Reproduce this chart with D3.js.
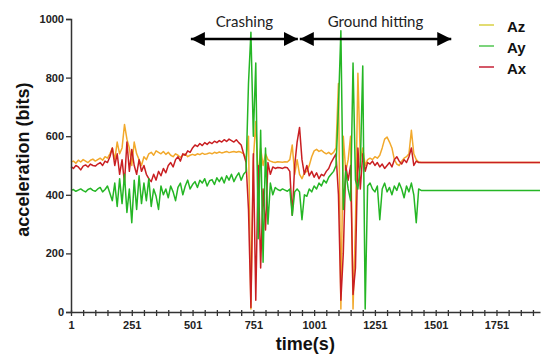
<!DOCTYPE html>
<html>
<head>
<meta charset="utf-8">
<script src="https://cdn.jsdelivr.net/npm/d3@7"></script>
<style>
  body { margin: 0; background: #fff; }
  svg { display: block; }
</style>
</head>
<body>
<div id="chart"></div>
<script>
// sample times (s)
const time = [
  1, 11, 21, 31, 41, 51, 61, 71, 81, 91,
  101, 111, 121, 131, 141, 151, 161, 171, 181, 191,
  201, 211, 221, 231, 241, 251, 261, 271, 281, 291,
  301, 311, 321, 331, 341, 351, 361, 371, 381, 391,
  401, 411, 421, 431, 441, 451, 461, 471, 481, 491,
  501, 511, 521, 531, 541, 551, 561, 571, 581, 591,
  601, 611, 621, 631, 641, 651, 661, 671, 681, 691,
  701, 711, 721, 731, 741, 751, 761, 771, 781, 791,
  801, 811, 821, 831, 841, 851, 861, 871, 881, 891,
  901, 911, 921, 931, 941, 951, 961, 971, 981, 991,
  1001, 1011, 1021, 1031, 1041, 1051, 1061, 1071, 1081, 1091,
  1101, 1111, 1121, 1131, 1141, 1151, 1161, 1171, 1181, 1191,
  1201, 1211, 1221, 1231, 1241, 1251, 1261, 1271, 1281, 1291,
  1301, 1311, 1321, 1331, 1341, 1351, 1361, 1371, 1381, 1391,
  1401, 1411, 1421, 1431, 1441, 1451, 1461, 1471, 1481, 1491,
  1930
];

const az = [
  512, 515, 508, 518, 512, 520, 515, 510, 518, 522,
  515, 520, 525, 518, 530, 525, 540, 560, 520, 580,
  540, 560, 640, 590, 560, 500, 580, 540, 520, 500,
  530, 520, 540, 545, 535, 550, 545, 540, 548, 538,
  545, 535, 530, 540, 535, 528, 535, 540, 530, 535,
  538, 535, 540, 537, 542, 538, 540, 543, 540, 545,
  542, 546, 543, 545, 548, 544, 546, 548, 545, 548,
  545, 540, 520, 600, 10, 520, 650, 450, 560, 500,
  540, 520, 515, 512, 510, 513, 512, 511, 513, 512,
  520, 570, 470, 520, 470, 455, 475, 480, 500, 530,
  550, 555, 548, 552, 545, 540, 545, 538, 545, 560,
  780, 10, 600, 480, 520, 600, 10, 300, 815, 520,
  560, 500, 520, 525, 520, 530, 525, 535, 560, 590,
  597, 580, 560, 520, 505, 500, 515, 525, 530, 540,
  620, 540, 520, 512, 510, 510, 510, 510, 510, 510,
  510
];

const ay = [
  415, 418, 412, 416, 420, 414, 410, 418, 422, 415,
  412, 420, 425, 410, 418, 430, 405, 380, 440, 360,
  455, 370, 470, 340, 420, 305, 450, 350, 465, 370,
  440, 380, 455, 360, 420, 395, 350, 430, 400, 420,
  390, 430, 410, 380, 425, 440, 400, 430, 450, 420,
  435, 445, 425, 450, 440, 455, 430, 448, 452, 435,
  458, 445, 460, 440, 465, 450, 470, 445, 462, 475,
  450, 470, 480, 780, 955, 600, 850, 250, 620, 170,
  560, 300, 440, 400, 425, 418, 414, 420, 416, 412,
  420, 330, 410, 420, 410, 315, 400, 395, 420, 410,
  430, 420, 440, 430, 450, 440, 460, 470, 480, 500,
  700, 960, 350, 480, 420, 380, 850, 450, 420, 500,
  840, 10, 430, 440, 420, 410, 430, 315, 420, 440,
  410, 425, 400, 430, 415, 440, 420, 390, 430, 410,
  440, 400, 305, 420, 415, 415, 415, 415, 415, 415,
  415
];

const ax = [
  496, 490, 500, 495, 485, 498, 502, 495, 505, 500,
  498, 505, 510, 500, 515, 510, 530, 560, 500, 540,
  470, 520, 440, 580, 480, 555, 500, 470, 520, 480,
  500, 470, 455, 445, 470, 450, 480, 465, 490, 475,
  500, 510, 495, 520, 530, 515, 540, 535, 550, 545,
  560, 570, 565, 575, 568, 578, 572, 580, 575, 583,
  578, 585, 580, 588, 582, 590, 585, 580, 588, 578,
  570, 540, 510, 350, 15, 540, 40, 500, 150, 420,
  280, 510, 470, 495, 490, 493, 492, 490, 494, 492,
  480, 330, 500, 580, 630, 520, 470, 500, 465, 480,
  460, 475, 455, 470, 465, 480, 490, 510, 525, 540,
  400, 40, 200, 500, 450, 500, 60, 150, 560, 420,
  540, 480, 510, 505, 515, 500, 510, 495, 505, 490,
  500, 510, 495, 520, 530, 515, 505, 520, 510, 530,
  560, 500, 515, 510, 510, 510, 510, 510, 510, 510,
  510
];

const seriesNames = ["Az", "Ay", "Ax"];
const seriesColors = {Az: "#f2a92c", Ay: "#25b625", Ax: "#c91f22"};
const legendColors = {Az: "#e2dc72", Ay: "#7cd47c", Ax: "#d45868"};
const xTicks = [1, 251, 501, 751, 1001, 1251, 1501, 1751];
const yTicks = [0, 200, 400, 600, 800, 1000];
const phases = [
  {label: "Crashing", from: 494, to: 934},
  {label: "Ground hitting", from: 942, to: 1565}
];

let margin = {top: 19, right: 1, bottom: 44, left: 71};
let _width = 541 - margin.left - margin.right;
let _height = 356 - margin.top - margin.bottom;

let x = d3.scaleLinear().domain([1, 1930]).range([0, _width]);
let y = d3.scaleLinear().domain([0, 1000]).range([_height, 0]);

let svg = d3.select("#chart").append("svg")
    .attr("width", 541)
    .attr("height", 356)
  .append("g")
    .attr("transform", "translate(" + margin.left + "," + margin.top + ")");

// arrow heads
let defs = svg.append("defs");
["end", "start"].forEach(function(k) {
  defs.append("marker")
      .attr("id", "arrow-" + k)
      .attr("markerUnits", "userSpaceOnUse")
      .attr("markerWidth", 16).attr("markerHeight", 14)
      .attr("refX", k === "end" ? 14 : 0).attr("refY", 7)
      .attr("orient", "auto")
    .append("path")
      .attr("d", k === "end" ? "M0,0L14,7L0,14Z" : "M14,0L0,7L14,14Z")
      .attr("fill", "#000");
});

// lines
const table = {Az: az, Ay: ay, Ax: ax};
let line = d3.line()
    .x(function(d, i) { return x(time[i]); })
    .y(function(d) { return y(d); });

["Az", "Ax", "Ay"].forEach(function(name) {
  svg.append("path")
      .datum(table[name])
      .attr("fill", "none")
      .attr("stroke", seriesColors[name])
      .attr("stroke-width", 1.5)
      .attr("stroke-linejoin", "round")
      .attr("d", line);
});

let fmt = d3.format("d");

// y axis
let yAxis = svg.append("g")
    .call(d3.axisLeft(y).tickValues(yTicks).tickFormat(fmt).tickSize(5).tickPadding(2));
yAxis.select(".domain").attr("stroke", "#333").attr("stroke-width", 1.5);
yAxis.selectAll(".tick line").attr("stroke", "#333").attr("stroke-width", 1.3);
yAxis.selectAll("text")
    .attr("font-family", "Liberation Sans, Arial, sans-serif")
    .attr("font-weight", "bold")
    .attr("font-size", 11)
    .attr("fill", "#222");

// x axis, minor ticks every 50
let minor = d3.range(51, 1930, 50).filter(function(v) { return xTicks.indexOf(v) < 0; });
let xMinor = svg.append("g")
    .attr("transform", "translate(0," + _height + ")")
    .call(d3.axisBottom(x).tickValues(minor).tickSize(4).tickFormat(""));
xMinor.select(".domain").remove();
xMinor.selectAll(".tick line").attr("y1", -2).attr("stroke", "#333").attr("stroke-width", 1.3);

let xAxis = svg.append("g")
    .attr("transform", "translate(0," + _height + ")")
    .call(d3.axisBottom(x).tickValues(xTicks).tickFormat(fmt).tickSize(4).tickPadding(5).tickSizeOuter(0));
xAxis.select(".domain").attr("stroke", "#333").attr("stroke-width", 1.5);
xAxis.selectAll(".tick line").attr("y1", -2).attr("stroke", "#333").attr("stroke-width", 1.3);
xAxis.selectAll("text")
    .attr("font-family", "Liberation Sans, Arial, sans-serif")
    .attr("font-weight", "bold")
    .attr("font-size", 11)
    .attr("fill", "#222");

// axis titles
svg.append("text")
    .attr("x", x(965))
    .attr("y", _height + 38)
    .attr("text-anchor", "middle")
    .attr("font-family", "Liberation Sans, Arial, sans-serif")
    .attr("font-weight", "bold")
    .attr("font-size", 18)
    .attr("fill", "#111")
    .text("time(s)");

svg.append("text")
    .attr("transform", "translate(" + (-42) + "," + y(520) + ") rotate(-90)")
    .attr("text-anchor", "middle")
    .attr("font-family", "Liberation Sans, Arial, sans-serif")
    .attr("font-weight", "bold")
    .attr("font-size", 18)
    .attr("fill", "#111")
    .text("acceleration (bits)");

// phase arrows
phases.forEach(function(p) {
  svg.append("line")
      .attr("x1", x(p.from)).attr("x2", x(p.to))
      .attr("y1", 20).attr("y2", 20)
      .attr("stroke", "#000")
      .attr("stroke-width", 2.5)
      .attr("marker-start", "url(#arrow-start)")
      .attr("marker-end", "url(#arrow-end)");
  svg.append("text")
      .attr("x", (x(p.from) + x(p.to)) / 2)
      .attr("y", 8)
      .attr("text-anchor", "middle")
      .attr("font-family", "Lato, Open Sans, sans-serif")
      .attr("font-size", 15)
      .attr("fill", "#222")
      .text(p.label);
});

// legend
let legend = svg.append("g").attr("transform", "translate(408,6)");
seriesNames.forEach(function(name, i) {
  let row = legend.append("g").attr("transform", "translate(0," + (i * 21) + ")");
  row.append("line")
      .attr("x1", 0).attr("x2", 15)
      .attr("stroke", legendColors[name])
      .attr("stroke-width", 2);
  row.append("text")
      .attr("x", 28)
      .attr("y", 7)
      .attr("font-family", "Liberation Sans, Arial, sans-serif")
      .attr("font-weight", "bold")
      .attr("font-size", 15)
      .attr("fill", "#111")
      .text(name);
});
</script>
</body>
</html>
